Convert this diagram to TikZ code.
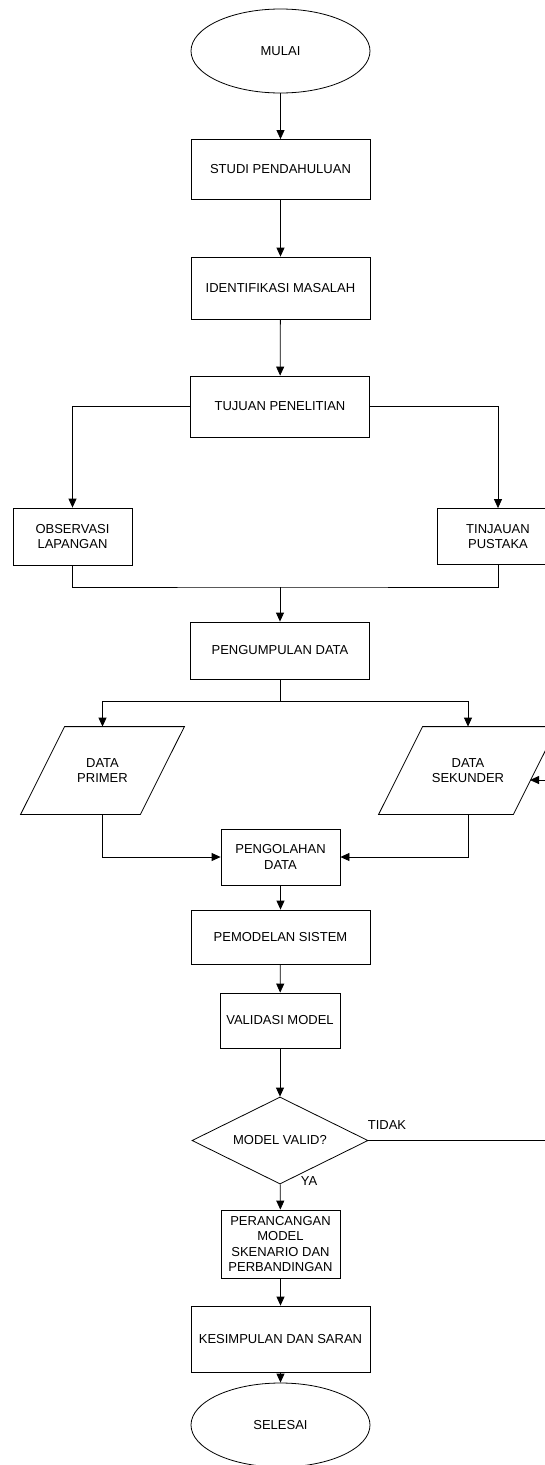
\documentclass[tikz,border=0pt]{standalone}
\usepackage{fontspec}
\setmainfont{Liberation Sans}
\usetikzlibrary{shapes.geometric,arrows.meta}

\begin{document}
\begin{tikzpicture}[x=1pt,y=-1pt,line width=0.8pt,
    font=\fontsize{13}{15.5}\selectfont,
    box/.style={draw,rectangle,align=center,inner sep=0pt},
    oval/.style={draw,ellipse,inner sep=0pt,minimum width=179pt,minimum height=84pt},
    slant/.style={rectangle,align=center,inner sep=0pt,minimum height=87pt},
    arrow/.style={-{Triangle[width=8pt,length=9pt]}}]

    \clip (0,0) rectangle (545,1465);

    % main column
    \node[oval] (mulai) at (280.5,51) {MULAI};
    \node[box, minimum width=179pt, minimum height=60pt] (studi) at (280.5,169.5) {STUDI PENDAHULUAN};
    \node[box, minimum width=179pt, minimum height=62pt] (ident) at (280.5,288) {IDENTIFIKASI MASALAH};
    \node[box, minimum width=179pt, minimum height=61pt] (tujuan) at (280,406.5) {TUJUAN PENELITIAN};

    \node[box, minimum width=119pt, minimum height=57pt] (obs) at (72.5,536.5) {OBSERVASI\\LAPANGAN};
    \node[box, minimum width=122pt, minimum height=56pt] (tinj) at (498,536.5) {TINJAUAN\\PUSTAKA};

    \node[box, minimum width=179pt, minimum height=57pt] (kumpul) at (280,650.5) {PENGUMPULAN DATA};

    % data input
    \node[slant, minimum width=119pt] (primer) at (102.5,770.5) {DATA\\PRIMER};
    \draw ([xshift=22pt]primer.north west) -- ([xshift=22pt]primer.north east)
        -- ([xshift=-22pt]primer.south east) -- ([xshift=-22pt]primer.south west) -- cycle;
    \node[slant, minimum width=134pt] (sekunder) at (468,770.5) {DATA\\SEKUNDER};
    \draw ([xshift=22pt]sekunder.north west) -- ([xshift=22pt]sekunder.north east)
        -- ([xshift=-22pt]sekunder.south east) -- ([xshift=-22pt]sekunder.south west) -- cycle;
    \coordinate (skin) at (530,780);

    \node[box, minimum width=119pt, minimum height=56pt] (olah) at (280.5,857) {PENGOLAHAN\\DATA};
    \node[box, minimum width=179pt, minimum height=54pt] (model) at (280.5,937) {PEMODELAN SISTEM};
    \node[box, minimum width=120pt, minimum height=55pt] (valid) at (280,1020.5) {VALIDASI MODEL};
    \node[draw, diamond, aspect=2, inner sep=0pt, minimum width=176pt, minimum height=87pt] (cek) at (280,1140.5) {MODEL VALID?};
    \node[box, minimum width=119pt, minimum height=68pt] (rancang) at (280.5,1244) {PERANCANGAN\\MODEL\\SKENARIO DAN\\PERBANDINGAN};
    \node[box, minimum width=179pt, minimum height=66pt] (simpul) at (280.5,1339) {KESIMPULAN DAN SARAN};
    \node[oval] (selesai) at (280.5,1425) {SELESAI};

    \node (ya) at (309,1181) {YA};
    \node (tidak) at (387,1125) {TIDAK};

    \coordinate (gabung) at (280,587);
    \coordinate (bagi) at (280,701);

    % connectors
    \draw[arrow] (mulai) -- (studi);
    \draw[arrow] (studi) -- (ident);
    \draw[arrow] (ident) -- (tujuan);
    \draw[arrow] (tujuan.west) -| (obs.north);
    \draw[arrow] (tujuan.east) -| (tinj.north);
    \draw (obs.south) |- (gabung) -| (tinj.south);
    \draw[arrow] (gabung) -- (kumpul.north);
    \draw (kumpul.south) -- (bagi);
    \draw[arrow] (bagi) -| (primer.north);
    \draw[arrow] (bagi) -| (sekunder.north);
    \draw[arrow] (primer.south) |- (olah.west);
    \draw[arrow] (sekunder.south) |- (olah.east);
    \draw[arrow] (olah) -- (model);
    \draw[arrow] (model) -- (valid);
    \draw[arrow] (valid) -- (cek);
    \draw[arrow] (cek) -- (rancang);
    \draw[arrow] (rancang) -- (simpul);
    \draw[arrow] (simpul) -- (selesai);
    \draw[arrow] (cek.east) -- ++(232,0) |- (skin);

\end{tikzpicture}
\end{document}
